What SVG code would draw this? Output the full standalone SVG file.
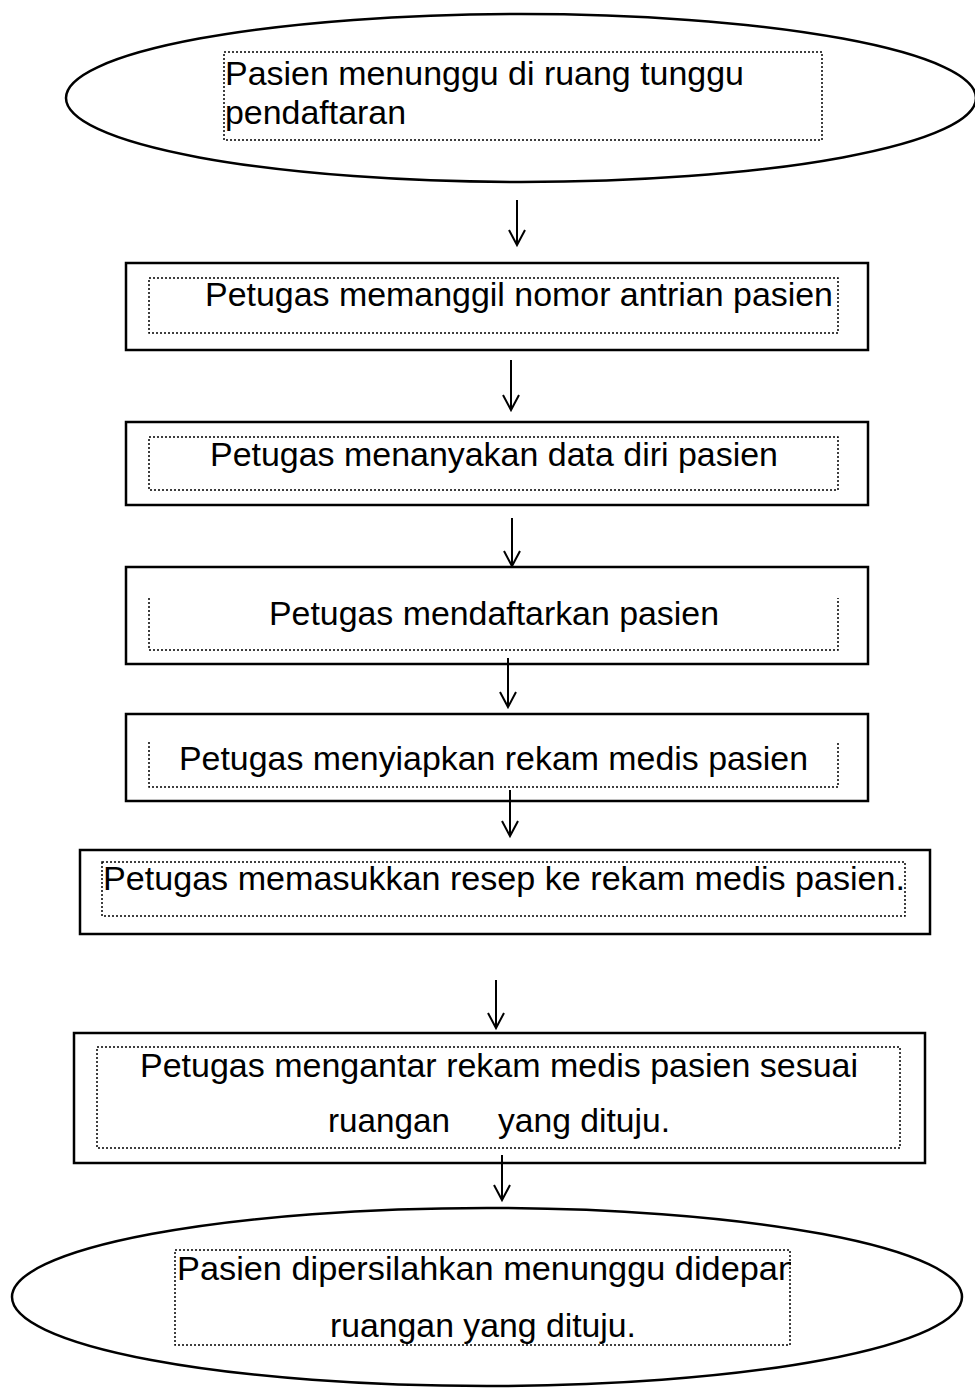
<svg xmlns="http://www.w3.org/2000/svg" width="975" height="1389" viewBox="0 0 975 1389">
<style>
.box{fill:#fff;stroke:#000;stroke-width:2.5}
.oval{fill:#fff;stroke:#000;stroke-width:2.5}
.dot{fill:none;stroke:#000;stroke-width:1.5;stroke-dasharray:2 2}
.t{font-family:"Liberation Sans",Arial,sans-serif;font-size:34px;fill:#000}
.c{stroke:#000;stroke-width:2;fill:none}
</style>
<defs>
<clipPath id="clipE"><rect x="175" y="1245" width="616" height="105"/></clipPath>
</defs>
<rect width="975" height="1389" fill="#fff"/>

<g id="n1">
<ellipse class="oval" cx="521" cy="98" rx="455" ry="84"/>
<rect class="dot" x="224" y="52" width="598" height="88"/>
<text class="t" x="225" y="85" textLength="519" lengthAdjust="spacingAndGlyphs">Pasien menunggu di ruang tunggu</text>
<text class="t" x="225" y="124" textLength="181" lengthAdjust="spacingAndGlyphs">pendaftaran</text>
</g>

<g id="n2">
<rect class="box" x="126" y="263" width="742" height="87"/>
<rect class="dot" x="149" y="278" width="689" height="55"/>
<text class="t" x="205" y="306" textLength="628" lengthAdjust="spacingAndGlyphs">Petugas memanggil nomor antrian pasien</text>
</g>

<g id="n3">
<rect class="box" x="126" y="422" width="742" height="83"/>
<rect class="dot" x="149" y="437" width="689" height="53"/>
<text class="t" x="210" y="466" textLength="568" lengthAdjust="spacingAndGlyphs">Petugas menanyakan data diri pasien</text>
</g>

<g id="n4">
<rect class="box" x="126" y="567" width="742" height="97"/>
<path class="dot" d="M149,598 V650 H838 V598"/>
<text class="t" x="269" y="625" textLength="450" lengthAdjust="spacingAndGlyphs">Petugas mendaftarkan pasien</text>
</g>

<g id="n5">
<rect class="box" x="126" y="714" width="742" height="87"/>
<path class="dot" d="M149,742 V787 H838 V742"/>
<text class="t" x="179" y="770" textLength="629" lengthAdjust="spacingAndGlyphs">Petugas menyiapkan rekam medis pasien</text>
</g>

<g id="n6">
<rect class="box" x="80" y="850" width="850" height="84"/>
<rect class="dot" x="102" y="862" width="803" height="54"/>
<text class="t" x="103" y="890" textLength="802" lengthAdjust="spacingAndGlyphs">Petugas memasukkan resep ke rekam medis pasien.</text>
</g>

<g id="n7">
<rect class="box" x="74" y="1033" width="851" height="130"/>
<rect class="dot" x="97" y="1047" width="803" height="101"/>
<text class="t" x="140" y="1077" textLength="718" lengthAdjust="spacingAndGlyphs">Petugas mengantar rekam medis pasien sesuai</text>
<text class="t" y="1132"><tspan x="328" textLength="122" lengthAdjust="spacingAndGlyphs">ruangan</tspan> <tspan x="498" textLength="172" lengthAdjust="spacingAndGlyphs">yang dituju.</tspan></text>
</g>

<g id="n8">
<ellipse class="oval" cx="487" cy="1297" rx="475" ry="89"/>
<rect class="dot" x="175" y="1250" width="615" height="95"/>
<text class="t" x="177" y="1280" textLength="620" lengthAdjust="spacingAndGlyphs" clip-path="url(#clipE)">Pasien dipersilahkan menunggu didepan</text>
<text class="t" x="330" y="1337" textLength="306" lengthAdjust="spacingAndGlyphs">ruangan yang dituju.</text>
</g>

<g id="connectors">
<path class="c" d="M517,200 V245 M509,230 L517,245 L525,230"/>
<path class="c" d="M511,360 V410 M503,395 L511,410 L519,395"/>
<path class="c" d="M512,518 V566 M504,551 L512,566 L520,551"/>
<path class="c" d="M508,658 V707 M500,692 L508,707 L516,692"/>
<path class="c" d="M510,790 V836 M502,821 L510,836 L518,821"/>
<path class="c" d="M496,980 V1028 M488,1013 L496,1028 L504,1013"/>
<path class="c" d="M502,1155 V1200 M494,1185 L502,1200 L510,1185"/>
</g>
</svg>
